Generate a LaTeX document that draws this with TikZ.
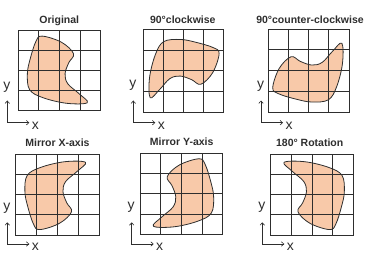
\documentclass[tikz,border=0pt]{standalone}
\usepackage{fontspec}
\setmainfont{Liberation Sans}
\usetikzlibrary{arrows.meta}
\definecolor{blob}{HTML}{F8C9A9}
\definecolor{ink}{HTML}{2E2E2E}
\tikzset{
  gridline/.style={draw=ink, line width=0.85pt},
  blobfill/.style={fill=blob},
  blobline/.style={draw=ink, line width=0.8pt},
  axisarrow/.style={draw=ink, line width=0.6pt, {Straight Barb[length=2.5pt,width=4.5pt]}-{Straight Barb[length=2.5pt,width=4.5pt]}},
  titletext/.style={font=\bfseries\fontsize{10.5}{12}\selectfont, text=ink, anchor=base, inner sep=0pt},
  axislabel/.style={font=\fontsize{14}{16}\selectfont, text=ink, inner sep=0pt},
}
\newcommand\blobshape[1]{\path[#1] plot[smooth cycle, tension=0.6] coordinates {(-0.85,-1.73) (0.1,-1.42) (0.68,-0.85) (0.45,-0.4) (0.27,0.15) (0.4,0.65) (0.95,1.15) (1.35,1.6) (0.35,1.63) (-0.8,1.35) (-1.45,0.95) (-1.56,0.15) (-1.42,-0.6) (-1.15,-1.45)};}
\newcommand\drawpanel[5]{%
  \begin{scope}[shift={(#1,#2)}, x={(#3pt,0pt)}, y={(0pt,-#4pt)}]
    \begin{scope}[#5]\blobshape{blobfill}\end{scope}
    \draw[gridline] (-2,-2) rectangle (2,2);
    \foreach \k in {-1,0,1}{\draw[gridline] (\k,-2) -- (\k,2); \draw[gridline] (-2,\k) -- (2,\k);}
    \begin{scope}[#5]\blobshape{blobline}\end{scope}
  \end{scope}}
\begin{document}
\begin{tikzpicture}[x=1pt, y=-1pt]
  \useasboundingbox (0,0) rectangle (389,254);
  % panels
  \drawpanel{59.5}{70.7}{20.6}{20}{}
  \drawpanel{183.3}{70.65}{20}{20.7}{rotate=-90}
  \drawpanel{308.65}{70.5}{20.2}{20.75}{rotate=90}
  \drawpanel{57.35}{194.65}{20.8}{20.2}{yscale=-1}
  \drawpanel{181.35}{193.8}{20.7}{20.25}{xscale=-1}
  \drawpanel{312.05}{194.65}{20.7}{20.2}{rotate=180}
  % titles
  \node[titletext] (t1) at (59.3,23.5) {Original};
  \node[titletext] (t2) at (182.8,23.3) {90°clockwise};
  \node[titletext] (t3) at (310,23.3) {90°counter-clockwise};
  \node[titletext] (t4) at (57.5,146.3) {Mirror X-axis};
  \node[titletext] (t5) at (181.7,145.5) {Mirror Y-axis};
  \node[titletext] (t6) at (309.7,146.3) {180° Rotation};
  % axes
  \foreach \n/\ax/\oy/\ty/\ly/\lx in {1/7.3/122.7/100.5/87.5/125.7, 2/133.3/122.7/100.5/85/125.7, 3/261/122.7/100.5/86/125.7, 4/7.3/244/222.3/208/247, 5/131.7/244/222.3/207.5/247, 6/262.3/244/222.3/207.5/247}{
    \coordinate (o\n) at (\ax,\oy);
    \coordinate (ya\n) at (\ax,\ty);
    \coordinate (xa\n) at (\ax+22,\oy);
    \draw[axisarrow] (ya\n) -- (o\n) -- (xa\n);
    \node[axislabel] (ly\n) at (\ax-0.5,\ly) {y};
    \node[axislabel] (lx\n) at (\ax+28,\lx) {x};
  }
\end{tikzpicture}
\end{document}
